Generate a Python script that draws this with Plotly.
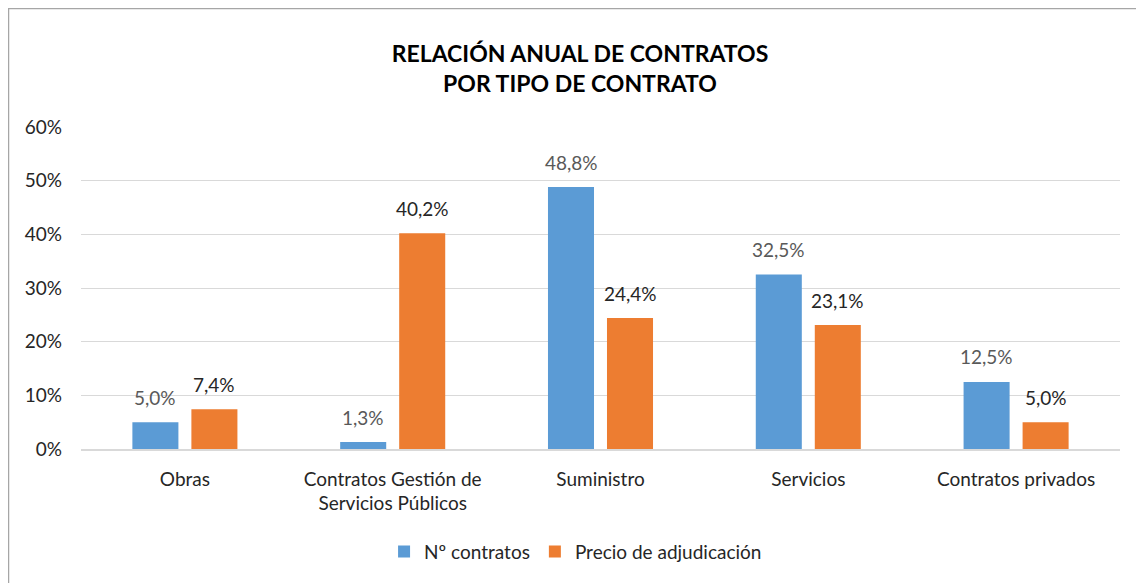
import plotly.graph_objects as go

categories = ["Obras", "Contratos Gestión de<br>Servicios Públicos", "Suministro", "Servicios", "Contratos privados"]
n_contratos = [0.050, 0.013, 0.488, 0.325, 0.125]
precio_adj = [0.074, 0.402, 0.244, 0.231, 0.050]
series_names = ["Nº contratos", "Precio de adjudicación"]
colors = ["#5B9BD5", "#ED7D31"]
label_colors = ["#595959", "#262626"]

FONT = "Lato, Carlito, 'Open Sans', sans-serif"

fig = go.Figure()
for vals, name, col in zip([n_contratos, precio_adj], series_names, colors):
    fig.add_trace(go.Bar(x=categories, y=vals, name=name, marker_color=col,
                         marker_line_width=0))

annotations = []
for vals, lc, shift in zip([n_contratos, precio_adj], label_colors, [-29.5, 29.5]):
    for c, v in zip(categories, vals):
        annotations.append(dict(
            x=c, y=v, xref="x", yref="y", text=f"{v*100:.1f}%".replace(".", ","),
            showarrow=False, xshift=shift, yshift=25, yanchor="middle",
            font=dict(size=19, color=lc, family=FONT)))

fig.update_layout(
    width=1144, height=583,
    margin=dict(l=73, r=32, t=119, b=142),
    paper_bgcolor="white", plot_bgcolor="white",
    separators=",.",
    font=dict(family=FONT, size=19, color="#262626"),
    title=dict(text="<b>RELACIÓN ANUAL DE CONTRATOS<br>POR TIPO DE CONTRATO</b>",
               x=0.5, xanchor="center", y=0.907, yanchor="middle",
               font=dict(size=23, color="#000000", family=FONT)),
    barmode="group", bargap=0.432, bargroupgap=0.22,
    showlegend=True,
    legend=dict(orientation="h", x=0.476, xanchor="center", y=-0.26, yanchor="top",
                font=dict(size=19, color="#262626", family=FONT),
                traceorder="normal"),
    yaxis=dict(range=[0, 0.6], dtick=0.1, tickformat=".0%",
               gridcolor="#D9D9D9", gridwidth=1, zeroline=False,
               showline=False, ticks="", ticklabelstandoff=18,
               tickfont=dict(size=19, color="#262626")),
    xaxis=dict(showline=True, linecolor="#D9D9D9", linewidth=1.5,
               ticks="", ticklabelstandoff=12, tickfont=dict(size=19, color="#262626")),
    annotations=annotations,
    shapes=[dict(type="rect", xref="paper", yref="paper",
                 x0=-72.5 / 1039, x1=1.2, y0=-1, y1=(441 - 0.5) / 322,
                 line=dict(color="#A6A6A6", width=1.5), layer="below")],
)

fig.write_html("out.html")
